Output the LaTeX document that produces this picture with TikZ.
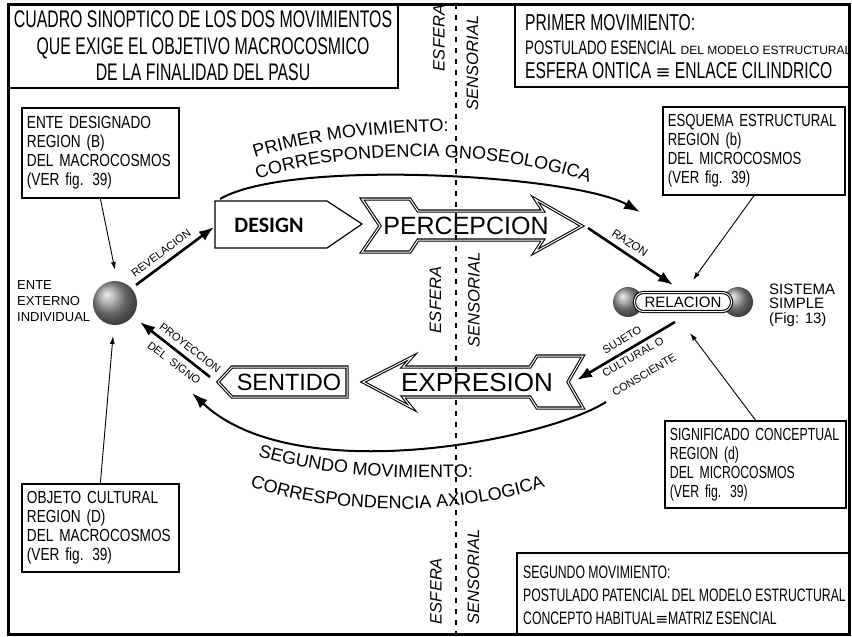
\documentclass[tikz,border=0pt]{standalone}
\usepackage{fontspec}
\setmainfont{Liberation Sans}
\newfontfamily\condA{Liberation Sans}[FakeStretch=0.66]
\newfontfamily\condB{Liberation Sans}[FakeStretch=0.68]
\newfontfamily\condC{Liberation Sans}[FakeStretch=0.78]
\newfontfamily\condD{Liberation Sans}[FakeStretch=0.75]
\newfontfamily\condE{Liberation Sans}[FakeStretch=0.70]
\newfontfamily\symf{DejaVu Sans}
\newfontfamily\designf{Carlito}
\newcommand\arcfont{\fontsize{18}{18}\selectfont}
\usetikzlibrary{arrows.meta,decorations.text}
\begin{document}
\begin{tikzpicture}[x=1pt,y=-1pt,
  hdr/.style={line width=2.2pt},
  smallbox/.style={draw,line width=1.8pt,align=left,anchor=north west,inner xsep=5pt,inner ysep=0pt},
  sphere/.style={circle,inner sep=0pt,shading=ball,ball color=gray!85},
  dbl/.style={draw,double,double distance=1pt,line width=1.1pt,fill=white},
  bigtxt/.style={inner sep=0pt,font=\fontsize{25}{25}\selectfont},
  thinarrow/.style={line width=0.9pt,-{Latex[length=8pt,width=5pt]}},
  thickarrow/.style={line width=2.6pt,-{Latex[length=15pt,width=11pt]}},
  arcarrow/.style={line width=2pt,-{Latex[length=16pt,width=11pt]}},
  lab/.style={inner sep=0pt,font=\fontsize{11}{11}\selectfont},
  vlab/.style={inner sep=0pt,rotate=90,font=\itshape\fontsize{16.5}{16.5}\selectfont},
  sidetxt/.style={align=left,anchor=west,inner sep=0pt},
  vdash/.style={line width=2.2pt,dash pattern=on 5pt off 6pt}
]
\useasboundingbox (0,0) rectangle (852,637);
\fill[white] (0,0) rectangle (852,637);

% outer frame
\draw[line width=3pt] (8.5,4) rectangle (849.5,634.5);

% header boxes
\draw[hdr] (8.5,88) -- (398,88) -- (398,4);
\node[align=center,font=\condA\fontsize{24}{26.5}\selectfont] (title) at (203,46)
  {CUADRO SINOPTICO DE LOS DOS MOVIMIENTOS\\QUE EXIGE EL OBJETIVO MACROCOSMICO\\DE LA FINALIDAD DEL PASU};

\draw[hdr] (515,4) -- (515,87) -- (849.5,87);
\node[sidetxt,font=\condB\fontsize{23}{24}\selectfont] (prim) at (525,47)
  {PRIMER MOVIMIENTO:\\{\fontsize{19.5}{24}\selectfont POSTULADO ESENCIAL} {\rmfamily\fontsize{12}{24}\selectfont DEL MODELO ESTRUCTURAL}\\ESFERA ONTICA {\symf\fontsize{18}{24}\selectfont ≡} ENLACE CILINDRICO};

\draw[hdr] (517,634.5) -- (517,553) -- (849.5,553);
\node[sidetxt,font=\condB\fontsize{18}{23}\selectfont] (seg) at (523,595)
  {SEGUNDO MOVIMIENTO:\\POSTULADO PATENCIAL DEL MODELO ESTRUCTURAL\\CONCEPTO HABITUAL{\symf\fontsize{15}{23}\selectfont ≡}MATRIZ ESENCIAL};

% small boxes
\node[smallbox,font=\condC\fontsize{17.5}{19}\selectfont,text width=147pt,minimum height=90pt] (entebox) at (21,107)
  {ENTE DESIGNADO\\REGION (B)\\DEL MACROCOSMOS\\(VER fig. 39)};
\node[smallbox,font=\condC\fontsize{17.5}{19}\selectfont,text width=147pt,minimum height=88pt] (objbox) at (21,483)
  {OBJETO CULTURAL\\REGION (D)\\DEL MACROCOSMOS\\(VER fig. 39)};
\node[smallbox,font=\condD\fontsize{17.5}{19}\selectfont,text width=172pt,minimum height=88pt] (esqbox) at (662,106)
  {ESQUEMA ESTRUCTURAL\\REGION (b)\\DEL MICROCOSMOS\\(VER fig. 39)};
\node[smallbox,font=\condE\fontsize{17.5}{19}\selectfont,text width=171pt,minimum height=87pt] (sigbox) at (664,420)
  {SIGNIFICADO CONCEPTUAL\\REGION (d)\\DEL MICROCOSMOS\\(VER fig. 39)};

% left sphere
\node[sphere,minimum size=44pt] (ente) at (115,303) {};
\node[sidetxt,font=\fontsize{13}{16}\selectfont] (entelab) at (17,301) {ENTE\\EXTERNO\\INDIVIDUAL};

% relacion
\node[sphere,minimum size=30pt] (rl) at (628,302) {};
\node[sphere,minimum size=30pt] (rr) at (738,302) {};
\node[dbl,rounded corners=9pt,minimum width=97pt,minimum height=19pt,inner sep=0pt,font=\fontsize{15}{15}\selectfont] (rel) at (683,302) {RELACION};
\node[sidetxt,font=\fontsize{15}{14.5}\selectfont] (sist) at (769,305) {SISTEMA\\SIMPLE\\(Fig: 13)};

% DESIGN
\draw[line width=1.2pt,fill=white] (215,201) -- (327,201) -- (362,224) -- (327,248) -- (215,248) -- cycle;
\node[inner sep=0pt,font=\designf\bfseries\fontsize{22}{22}\selectfont] (design) at (269,225) {DESIGN};

% PERCEPCION
\draw[dbl] (362,199) -- (410,199) -- (418,211) -- (543,211) -- (535,199) -- (582,226) -- (535,252) -- (543,240) -- (418,240) -- (410,252) -- (362,252) -- (380,226) -- cycle;
\node[bigtxt] (perc) at (466,226) {PERCEPCION};

% EXPRESION
\draw[dbl] (363,382) -- (412,357) -- (403,367) -- (530,367) -- (537,356) -- (583,356) -- (568,382) -- (583,408) -- (537,408) -- (530,397) -- (403,397) -- (412,408) -- cycle;
\node[bigtxt,font=\fontsize{26}{26}\selectfont] (expr) at (477,383) {EXPRESION};

% SENTIDO
\draw[dbl] (218,382) -- (232,367) -- (347,367) -- (347,397) -- (232,397) -- cycle;
\node[bigtxt,font=\fontsize{23.5}{23.5}\selectfont] (sent) at (289,382) {SENTIDO};

% coordinates for connector ends
\coordinate (revS) at (136,285);
\coordinate (revE) at (214,227);
\coordinate (razS) at (588,228);
\coordinate (razE) at (673,285);
\coordinate (sujS) at (675,322);
\coordinate (sujE) at (577,380);
\coordinate (proS) at (210,377);
\coordinate (proE) at (140,322);
\coordinate (enteTop) at (115,270);
\coordinate (enteBot) at (113,336);
\coordinate (relTop) at (693,280);
\coordinate (relBot) at (690,333);
\coordinate (a1s) at (220,199);
\coordinate (a1e) at (640,212);
\coordinate (a2s) at (606,402);
\coordinate (a2e) at (192,393);

% arcs
\draw[arcarrow] (a1s) .. controls (290,158) and (575,175) .. (a1e);
\draw[arcarrow] (a2s) .. controls (546,440) and (295,490) .. (a2e);

% arc texts
\path[decorate,decoration={text along path,text={|\arcfont|PRIMER MOVIMIENTO:},text align=left}]
  (255,158) .. controls (320,138) and (390,130) .. (475,132);
\path[decorate,decoration={text along path,text={|\arcfont|CORRESPONDENCIA GNOSEOLOGICA},text align=left}]
  (258,180) .. controls (330,150) and (530,142) .. (625,200);
\path[decorate,decoration={text along path,text={|\arcfont|SEGUNDO MOVIMIENTO:},text align=left}]
  (258,456) .. controls (330,478) and (420,482) .. (520,474);
\path[decorate,decoration={text along path,text={|\arcfont|CORRESPONDENCIA AXIOLOGICA},text align=left}]
  (250,486) .. controls (330,515) and (470,522) .. (575,475);

% thick arrows
\draw[thickarrow] (revS) -- (revE);
\draw[thickarrow] (razS) -- (razE);
\draw[thickarrow] (sujS) -- (sujE);
\draw[thickarrow] (proS) -- (proE);

% thin arrows
\draw[thinarrow] (entebox.south) -- (enteTop);
\draw[thinarrow] (objbox.north) -- (enteBot);
\draw[thinarrow] (esqbox.south) -- (relTop);
\draw[thinarrow] (sigbox.north) -- (relBot);

% arrow labels
\node[lab,rotate=36.5] (revl) at (161,253) {REVELACION};
\node[lab,rotate=-33.3,font=\fontsize{11.5}{11.5}\selectfont] (razl) at (630,243) {RAZON};
\node[lab,rotate=31.6] (sujl) at (622,340) {SUJETO};
\node[lab,rotate=30] (cull) at (633,357) {CULTURAL O};
\node[lab,rotate=31] (conl) at (644,375) {CONSCIENTE};
\node[lab,rotate=-38] (proyl) at (190,348) {PROYECCION};
\node[lab,rotate=-37] (signl) at (174,363) {DEL\ \ SIGNO};

% vertical dashed divider
\coordinate (vtop) at (456,4);
\coordinate (vbot) at (456,634);
\draw[vdash] (vtop) -- (vbot);

% ESFERA / SENSORIAL
\node[vlab] (esf1) at (439,38) {ESFERA};
\node[vlab] (sen1) at (472.5,63) {SENSORIAL};
\node[vlab] (esf2) at (435.5,300) {ESFERA};
\node[vlab] (sen2) at (474,300) {SENSORIAL};
\node[vlab] (esf3) at (436,591) {ESFERA};
\node[vlab] (sen3) at (473.5,577) {SENSORIAL};
\end{tikzpicture}
\end{document}
